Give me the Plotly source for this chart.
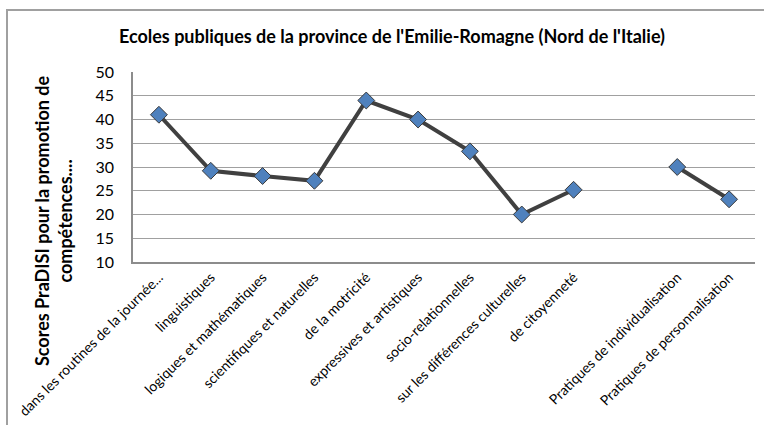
import plotly.graph_objects as go

categories = [
    "dans les routines de la journée...",
    "linguistiques",
    "logiques et mathématiques",
    "scientifiques et naturelles",
    "de la motricité",
    "expressives et artistiques",
    "socio-relationnelles",
    "sur les différences culturelles",
    "de citoyenneté",
    " ",
    "Pratiques de individualisation",
    "Pratiques de personnalisation",
]
scores = [41, 29.2, 28.1, 27.1, 44, 40, 33.3, 20, 25.2, None, 30, 23.2]
y_ticks = [10, 15, 20, 25, 30, 35, 40, 45, 50]

FONT = "Lato"

fig = go.Figure()
fig.add_trace(go.Scatter(
    x=categories, y=scores, mode="lines+markers",
    connectgaps=False,
    line=dict(color="#404040", width=4),
    marker=dict(symbol="diamond", size=13, color="#4F81BD",
                line=dict(color="#3A3A3A", width=1)),
    showlegend=False,
))

fig.update_layout(
    width=764, height=425,
    margin=dict(l=133, r=9, t=72, b=163, autoexpand=False),
    paper_bgcolor="white", plot_bgcolor="white",
    font=dict(family=FONT, color="black"),
    title=dict(text="<b>Ecoles publiques de la province de l'Emilie-Romagne (Nord de l'Italie)</b>",
               x=392/764, xanchor="center", y=1-37/425, yanchor="middle",
               font=dict(size=18, family=FONT, color="black")),
)
fig.update_xaxes(
    type="category", categoryorder="array", categoryarray=categories,
    range=[-0.5, 11.5], tickangle=-45, tickfont=dict(size=14, family=FONT),
    showline=True, linecolor="#8c8c8c", linewidth=1.5, showgrid=False,
    ticks="", automargin=False,
)
fig.update_yaxes(
    range=[10, 50], tickvals=y_ticks, tickfont=dict(size=16, family=FONT),
    showline=True, linecolor="#8c8c8c", linewidth=1.5,
    showgrid=True, gridcolor="#a0a0a0", gridwidth=1,
    ticks="", ticklabelstandoff=14, zeroline=False, automargin=False,
)
fig.add_annotation(
    text="<b>Scores PraDISI pour la promotion de<br>compétences....</b>",
    textangle=-90, xref="paper", yref="paper",
    x=(53-133)/622, y=(262-221)/190, xanchor="center", yanchor="middle",
    showarrow=False, font=dict(size=18, family=FONT, color="black"),
)
fig.add_shape(type="rect", xref="paper", yref="paper",
              x0=(7-133)/622, x1=1.5, y0=-2, y1=(262-10)/190,
              line=dict(color="#a0a0a0", width=2), layer="below")
fig.write_html("out.html", config={"displayModeBar": False},
               post_script="document.body.style.margin='0';")
